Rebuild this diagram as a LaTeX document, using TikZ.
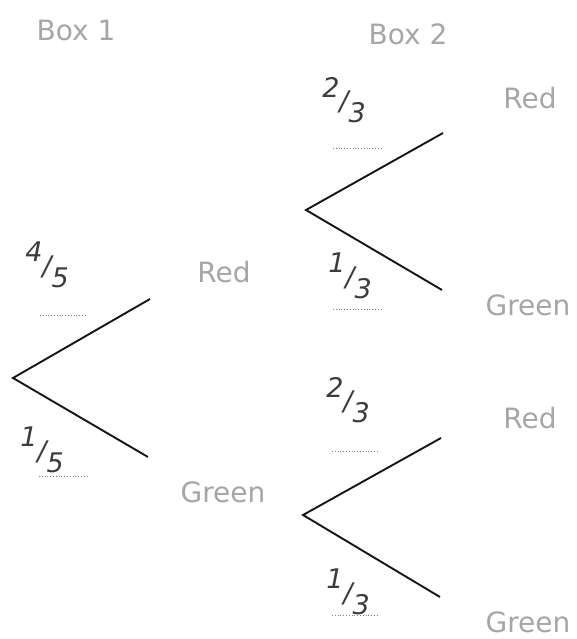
\documentclass[tikz,border=0pt]{standalone}
\usepackage{fontspec}
\setmainfont{DejaVu Sans}
\newcommand{\handFrac}[2]{\raisebox{0.5em}{#1}/\raisebox{-0.45em}{#2}}

\begin{document}
\begin{tikzpicture}[x=1pt, y=-1pt]
    % Define colours
    \definecolor{labelColour}{HTML}{A6A6A6}
    \definecolor{penColour}{HTML}{3C3C3C}
    \definecolor{lineColour}{HTML}{151515}

    \tikzset{
        outcome/.style={text=labelColour, font=\fontsize{28}{28}\selectfont},
        prob/.style={text=penColour, font=\fontsize{27}{27}\selectfont\itshape},
        branch/.style={draw=lineColour, line width=1.9pt},
        blank/.style={draw=gray, dotted, line width=0.8pt}
    }

    % Fix page size
    \useasboundingbox (0,0) rectangle (576,639);

    % Column headings
    \node[outcome] (box1) at (76,30) {Box 1};
    \node[outcome] (box2) at (408,34) {Box 2};

    % Draw first stage
    \coordinate (root1) at (13,378);
    \coordinate (end1r) at (150,299);
    \coordinate (end1g) at (148,457);
    \draw[branch] (end1r) -- (root1) -- (end1g);
    \node[outcome] (red1) at (224,272) {Red};
    \node[outcome] (green1) at (223,492) {Green};
    \node[prob] (p1r) at (47,265) {\handFrac{4}{5}};
    \node[prob] (p1g) at (42,450) {\handFrac{1}{5}};
    \draw[blank] (40,315) -- (87,315);
    \draw[blank] (39,476) -- (87,476);

    % Draw second stage, after red
    \coordinate (root2) at (306,210);
    \coordinate (end2r) at (443,133);
    \coordinate (end2g) at (442,290);
    \draw[branch] (end2r) -- (root2) -- (end2g);
    \node[outcome] (red2) at (530,98) {Red};
    \node[outcome] (green2) at (528,305) {Green};
    \node[prob] (p2r) at (344,100) {\handFrac{2}{3}};
    \node[prob] (p2g) at (350,276) {\handFrac{1}{3}};
    \draw[blank] (333,148) -- (381,148);
    \draw[blank] (333,309) -- (381,309);

    % Draw second stage, after green
    \coordinate (root3) at (303,515);
    \coordinate (end3r) at (441,438);
    \coordinate (end3g) at (440,597);
    \draw[branch] (end3r) -- (root3) -- (end3g);
    \node[outcome] (red3) at (530,418) {Red};
    \node[outcome] (green3) at (528,622) {Green};
    \node[prob] (p3r) at (348,400) {\handFrac{2}{3}};
    \node[prob] (p3g) at (348,592) {\handFrac{1}{3}};
    \draw[blank] (332,451) -- (378,451);
    \draw[blank] (332,615) -- (378,615);

\end{tikzpicture}
\end{document}
